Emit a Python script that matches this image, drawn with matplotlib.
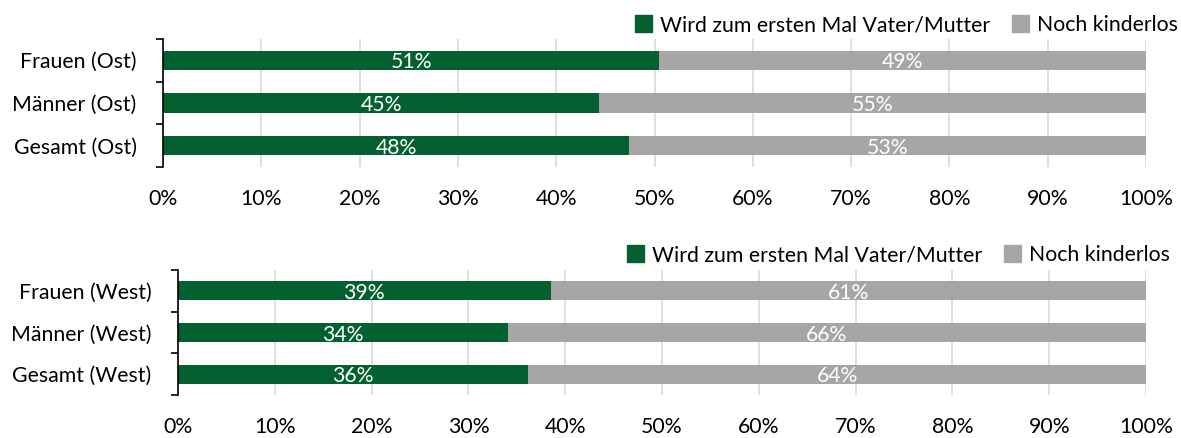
import matplotlib.pyplot as plt
from matplotlib.patches import Patch
from matplotlib.ticker import FixedLocator, PercentFormatter

plt.rcParams['font.family'] = ['Lato', 'DejaVu Sans']

# ── data ─────────────────────────────────────────────
labels_ost = ['Frauen (Ost)', 'Männer (Ost)', 'Gesamt (Ost)']
eltern_ost = [50.5, 44.4, 47.4]
kinderlos_ost = [49.5, 55.6, 52.6]
text_eltern_ost = ['51%', '45%', '48%']
text_kinderlos_ost = ['49%', '55%', '53%']

labels_west = ['Frauen (West)', 'Männer (West)', 'Gesamt (West)']
eltern_west = [38.5, 34.1, 36.2]
kinderlos_west = [61.5, 65.9, 63.8]
text_eltern_west = ['39%', '34%', '36%']
text_kinderlos_west = ['61%', '66%', '64%']

legend_labels = ['Wird zum ersten Mal Vater/Mutter', 'Noch kinderlos']

GREEN = '#04612f'
GREY = '#a6a6a6'
FS = 15.3

fig = plt.figure(figsize=(11.81, 4.38), dpi=100)


def draw_panel(rect, cats, green, grey, tg, tr, legend_anchor):
    ax = fig.add_axes(rect)
    y = list(range(len(cats)))
    ax.barh(y, green, height=0.45, color=GREEN, zorder=3)
    ax.barh(y, grey, left=green, height=0.45, color=GREY, zorder=3)
    for i in y:
        ax.text(green[i] / 2, i + 0.05, tg[i], ha='center', va='center',
                color='white', fontsize=FS, zorder=4)
        ax.text(green[i] + grey[i] / 2, i + 0.05, tr[i], ha='center', va='center',
                color='white', fontsize=FS, zorder=4)
    ax.set_xlim(0, 100)
    ax.set_ylim(len(cats) - 0.5, -0.5)
    ax.set_xticks(range(0, 101, 10))
    ax.xaxis.set_major_formatter(PercentFormatter(decimals=0))
    ax.set_yticks(y)
    ax.set_yticklabels(cats)
    ax.yaxis.set_minor_locator(FixedLocator([-0.5, 0.5, 1.5, 2.5]))
    ax.tick_params(axis='y', which='major', length=0, pad=19, labelsize=FS)
    ax.tick_params(axis='y', which='minor', length=5, width=1.2, color='black')
    ax.tick_params(axis='x', length=0, pad=16, labelsize=FS)
    ax.grid(axis='x', color='#d9d9d9', lw=1.2, zorder=0)
    for s in ['top', 'right', 'bottom']:
        ax.spines[s].set_visible(False)
    ax.spines['left'].set_linewidth(1.2)
    ax.spines['left'].set_zorder(5)
    handles = [Patch(color=GREEN), Patch(color=GREY)]
    ax.legend(handles, legend_labels, ncol=2, frameon=False, fontsize=FS,
              loc='center right', bbox_to_anchor=legend_anchor,
              bbox_transform=fig.transFigure, handlelength=0.8, handleheight=0.8,
              handletextpad=0.4, columnspacing=1.0, borderaxespad=0, borderpad=0)
    return ax


draw_panel([163 / 1181, 1 - 167 / 438, 983 / 1181, 128 / 438],
           labels_ost, eltern_ost, kinderlos_ost, text_eltern_ost, text_kinderlos_ost,
           (1178 / 1181, 1 - 25 / 438))
draw_panel([178 / 1181, 1 - 395 / 438, 968 / 1181, 125 / 438],
           labels_west, eltern_west, kinderlos_west, text_eltern_west, text_kinderlos_west,
           (1170 / 1181, 1 - 255 / 438))

plt.savefig('out.png', dpi=100)
